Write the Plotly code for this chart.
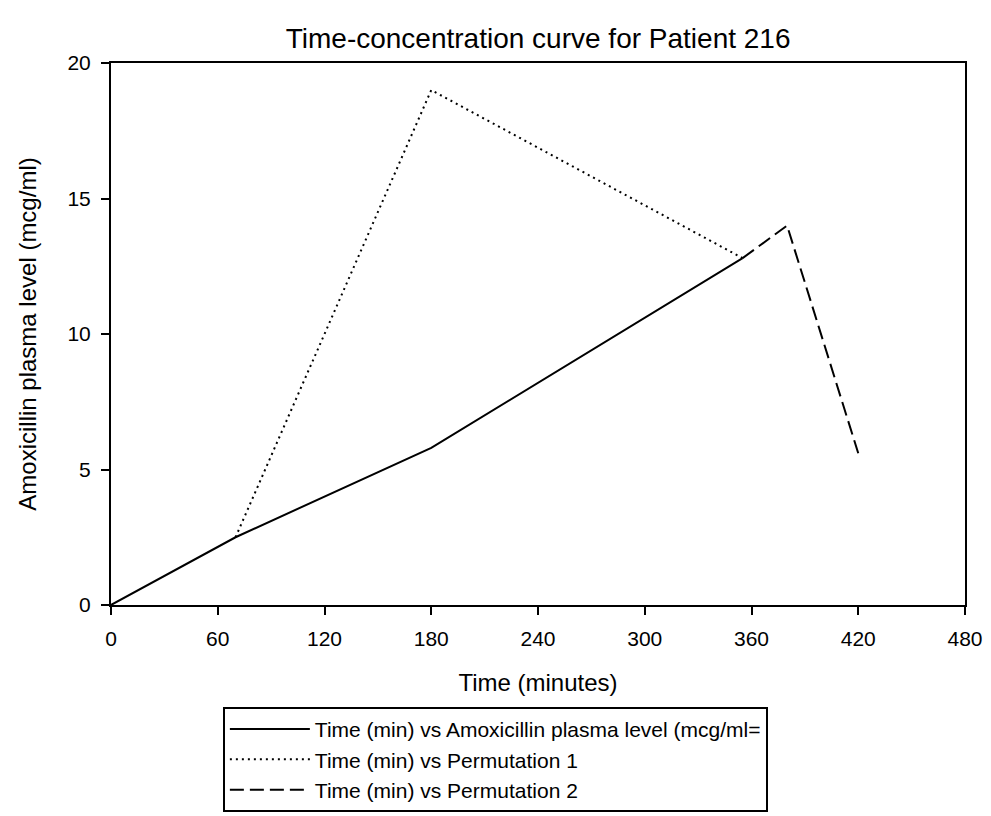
import plotly.graph_objects as go

# Data
time_main = [0, 70, 180, 355]
amox_main = [0, 2.5, 5.8, 12.8]

time_perm1 = [70, 180, 355]
perm1 = [2.5, 19.0, 12.8]

time_perm2 = [355, 380, 420]
perm2 = [12.8, 14.0, 5.6]

names = [
    "Time (min) vs Amoxicillin plasma level (mcg/ml=",
    "Time (min) vs Permutation 1",
    "Time (min) vs Permutation 2",
]

x_ticks = [0, 60, 120, 180, 240, 300, 360, 420, 480]
y_ticks = [0, 5, 10, 15, 20]

FONT = "Liberation Sans, Arial, sans-serif"

fig = go.Figure()
fig.add_trace(go.Scatter(x=time_main, y=amox_main, mode="lines", name=names[0],
                         line=dict(color="black", width=2, dash="solid")))
fig.add_trace(go.Scatter(x=time_perm1, y=perm1, mode="lines", name=names[1],
                         line=dict(color="black", width=2, dash="2px,4px")))
fig.add_trace(go.Scatter(x=time_perm2, y=perm2, mode="lines", name=names[2],
                         line=dict(color="black", width=2, dash="14px,6px")))

fig.update_layout(
    width=991, height=816,
    paper_bgcolor="white", plot_bgcolor="white",
    margin=dict(l=111, r=26, t=63, b=211, autoexpand=False),
    font=dict(family=FONT, color="black"),
    title=dict(text="Time-concentration curve for Patient 216", x=0.543, xanchor="center",
               y=1 - 38 / 816, yanchor="middle", font=dict(size=28, family=FONT, color="black")),
    showlegend=True,
    legend=dict(x=0.131, y=-0.188, xanchor="left", yanchor="top",
                bordercolor="black", borderwidth=2, bgcolor="white",
                font=dict(size=21, family=FONT, color="black"),
                tracegroupgap=0, itemwidth=80),
)

fig.update_xaxes(
    range=[0, 480], tickvals=x_ticks, ticktext=[str(v) for v in x_ticks],
    showgrid=False, zeroline=False, showline=True, linecolor="black", linewidth=2,
    mirror=True, ticks="outside", ticklen=8, tickwidth=2, tickcolor="black",
    ticklabelstandoff=6, automargin=False,
    tickfont=dict(size=21, family=FONT, color="black"),
    title=dict(text="Time (minutes)", font=dict(size=24, family=FONT, color="black"), standoff=25),
)
fig.update_yaxes(
    range=[0, 20], tickvals=y_ticks, ticktext=[str(v) for v in y_ticks],
    showgrid=False, zeroline=False, showline=True, linecolor="black", linewidth=2,
    mirror=True, ticks="outside", ticklen=8, tickwidth=2, tickcolor="black",
    ticklabelstandoff=6, automargin=False,
    tickfont=dict(size=21, family=FONT, color="black"),
    title=dict(text="Amoxicillin plasma level (mcg/ml)", font=dict(size=24, family=FONT, color="black"), standoff=24),
)

fig.write_html("out.html")
